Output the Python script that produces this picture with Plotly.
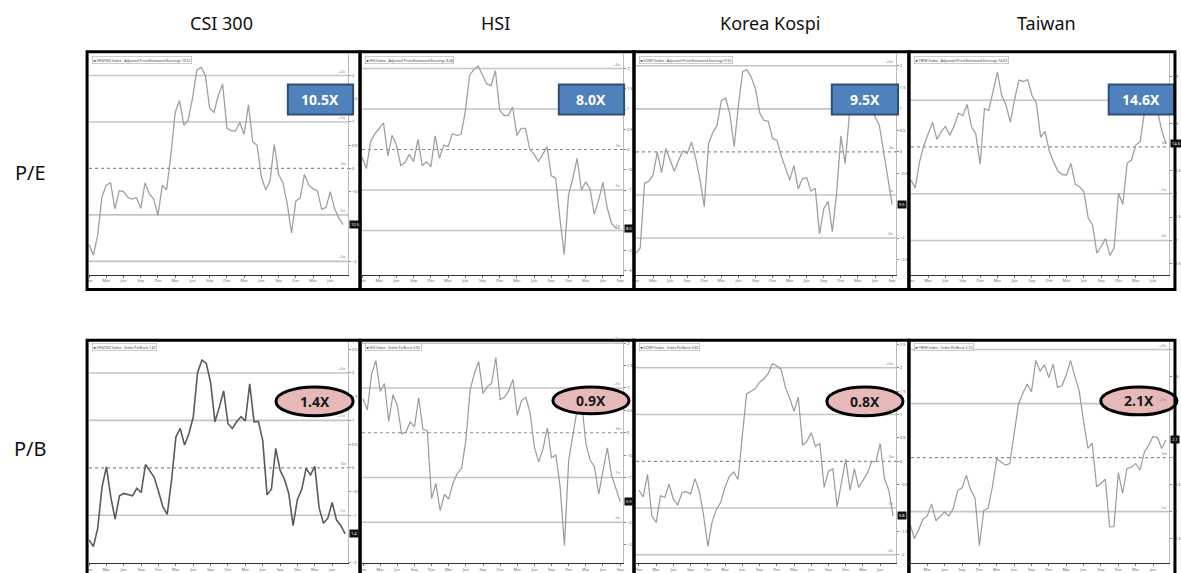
import plotly.graph_objects as go

W, H = 1181, 573

# ---------------- data (valuation in standard deviations from the mean) -------------
csi300_pe = [-1.64, -1.87, -1.43, -0.61, -0.36, -0.31, -0.87, -0.48, -0.50, -0.62,
             -0.66, -0.63, -0.86, -0.31, -0.55, -0.66, -1.01, -0.36, -0.46, 0.29,
             1.21, 1.46, 0.93, 1.04, 1.50, 2.11, 2.18, 2.00, 1.29, 1.21,
             1.57, 1.82, 0.87, 0.81, 0.81, 0.99, 0.73, 1.37, 0.57, 0.50,
             -0.18, -0.46, -0.27, 0.52, -0.13, -0.30, -0.77, -1.39, -0.70, -0.64,
             -0.13, -0.36, -0.44, -0.48, -0.88, -0.84, -0.50, -0.87, -1.07, -1.21]
hsi_pe = [-0.18, -0.47, 0.19, 0.39, 0.52, 0.66, -0.16, 0.35, 0.11, -0.39,
          -0.32, -0.12, -0.30, 0.25, -0.40, -0.30, -0.43, 0.34, -0.22, 0.11,
          0.07, 0.39, 0.35, 0.37, 0.93, 1.83, 1.98, 2.06, 1.84, 1.62,
          1.58, 1.95, 0.97, 0.84, 0.84, 1.05, 0.35, 0.52, 0.52, 0.00,
          -0.12, -0.29, -0.12, 0.07, -0.65, -0.70, -1.70, -2.60, -1.12, -0.71,
          -0.22, -1.00, -0.80, -0.98, -1.60, -1.25, -0.81, -1.45, -1.82, -1.94, -1.94]
kospi_pe = [-2.35, -2.23, -0.73, -0.68, -0.54, 0.00, -0.48, 0.08, -0.19, -0.45,
            -0.19, 0.02, -0.04, 0.23, -0.15, -0.65, -1.27, 0.19, 0.45, 0.62,
            1.19, 1.25, 0.88, 0.12, 1.08, 1.86, 1.91, 1.73, 1.46, 0.90,
            0.73, 0.71, 0.31, 0.27, -0.08, -0.35, -0.65, -0.32, -0.86, -0.62,
            -0.60, -0.91, -0.85, -1.91, -1.32, -1.15, -1.85, -0.96, 0.37, -0.27,
            0.88, 1.31, 1.38, 1.31, 1.42, 1.23, 0.81, 0.62, 0.00, -0.62, -1.22]
taiwan_pe = [-0.71, -0.87, -0.32, 0.04, 0.28, 0.53, 0.16, 0.33, 0.44, 0.25,
             0.45, 0.72, 0.67, 0.91, 0.43, 0.28, -0.37, 0.82, 0.78, 1.17,
             1.60, 1.10, 0.89, 0.53, 1.03, 1.43, 1.40, 1.44, 1.10, 0.94,
             0.21, 0.33, -0.09, -0.32, -0.52, -0.59, -0.60, -0.35, -0.80, -0.85,
             -0.96, -1.52, -1.67, -2.27, -2.13, -1.96, -2.32, -2.16, -0.99, -1.23,
             -0.35, -0.28, 0.04, 0.11, 0.74, 1.03, 1.03, 0.78, 0.35, 0.07]
csi300_pb = [-1.52, -1.66, -1.27, -0.40, 0.02, -0.61, -1.08, -0.59, -0.54, -0.57,
             -0.59, -0.43, -0.52, 0.07, -0.08, -0.20, -0.50, -0.82, -0.98, -0.26,
             0.65, 0.83, 0.48, 0.72, 1.07, 2.01, 2.27, 2.20, 1.80, 0.97,
             1.28, 1.62, 0.93, 0.83, 0.97, 1.08, 0.99, 1.77, 0.97, 0.98,
             0.58, -0.57, -0.45, 0.41, -0.05, -0.24, -0.54, -1.22, -0.66, -0.45,
             -0.01, -0.15, 0.03, -0.85, -1.17, -1.06, -0.73, -1.10, -1.22, -1.39]
hsi_pb = [0.76, 0.51, 1.31, 1.61, 0.93, 1.10, 0.26, 0.85, 0.61, -0.02,
          0.01, 0.24, 0.13, 0.78, 0.07, 0.05, -1.47, -1.13, -1.74, -1.38,
          -1.48, -1.13, -0.91, -0.80, -0.17, 0.96, 1.33, 1.59, 0.88, 1.03,
          1.10, 1.68, 0.74, 0.79, 0.94, 1.19, 0.39, 0.72, 0.79, 0.44,
          -0.32, -0.65, -0.36, 0.11, -0.56, -0.50, -1.21, -2.52, -0.61, 0.01,
          0.53, 0.72, -0.24, -0.61, -0.76, -1.37, -0.84, -0.34, -0.95, -1.26, -1.54]
kospi_pb = [-0.62, -0.76, -0.28, -1.17, -1.31, -0.74, -0.77, -0.49, -0.81, -0.94,
            -0.67, -0.65, -0.70, -0.37, -0.63, -1.15, -1.82, -1.29, -1.03, -0.87,
            -0.55, -0.32, -0.23, -0.39, 0.55, 1.44, 1.50, 1.55, 1.69, 1.76,
            1.88, 2.09, 2.04, 1.97, 1.58, 1.35, 1.07, 1.37, 0.34, 0.43,
            0.61, 0.32, 0.38, -0.56, -0.21, -0.16, -0.97, -0.46, 0.04, -0.62,
            -0.16, -0.56, -0.40, -0.26, -0.01, -0.01, 0.38, -0.37, -0.62, -1.17]
taiwan_pb = [-1.21, -1.50, -1.34, -1.14, -1.08, -0.86, -1.17, -1.08, -1.01, -1.08,
             -0.94, -0.61, -0.56, -0.33, -0.60, -0.75, -1.63, -0.98, -0.94, -0.54,
             -0.02, -0.08, -0.14, -0.11, 0.47, 0.99, 1.19, 1.36, 1.22, 1.80,
             1.60, 1.72, 1.48, 1.73, 1.30, 1.33, 1.53, 1.80, 1.50, 1.23,
             0.67, 0.17, 0.27, -0.54, -0.48, -0.40, -1.28, -1.28, -0.28, -0.66,
             -0.20, -0.18, -0.11, -0.23, 0.10, 0.23, 0.39, 0.37, 0.17, 0.33]

markets = ["CSI 300", "HSI", "Korea Kospi", "Taiwan"]
metrics = ["P/E", "P/B"]
current_multiples = ["10.5X", "8.0X", "9.5X", "14.6X", "1.4X", "0.9X", "0.8X", "2.1X"]
legend_texts = ["SHSZ300 Index - Adjusted Price/Estimated Earnings 10.52",
                "HSI Index - Adjusted Price/Estimated Earnings 8.04",
                "KOSPI Index - Adjusted Price/Estimated Earnings 9.50",
                "TWSE Index - Adjusted Price/Estimated Earnings 14.63",
                "SHSZ300 Index - Index Px/Book 1.41",
                "HSI Index - Index Px/Book 0.92",
                "KOSPI Index - Index Px/Book 0.83",
                "TWSE Index - Index Px/Book 2.10"]
sd_levels = [2, 1, 0, -1, -2]
month_labels = ["Dec", "Mar", "Jun", "Sep"]
series = [csi300_pe, hsi_pe, kospi_pe, taiwan_pe, csi300_pb, hsi_pb, kospi_pb, taiwan_pb]

# ---------------- geometry (pixels) ----------------
box_x = [(84, 360), (360, 637), (637, 915), (915, 1184)]
box_y = [(51, 290), (341, 578)]
plot_y = [(53, 275), (342, 565)]
plot_right = [348, 626, 902, 1178]
line_x = [(86, 343), (362, 623), (639, 898), (917, 1175),
          (86, 345), (363, 623), (642, 899), (916, 1175)]
mean_px = [168.3, 149.3, 151.7, 146.7, 469.3, 434.0, 462.7, 459.0]
sd_px = [46.7, 40.7, 43.3, 47.0, 47.7, 45.0, 47.0, 54.3]
badge_box = [(287, 353, 84, 114), (561, 627, 84, 114), (837, 904, 84, 114), (1117, 1183, 84, 114),
             (275, 353, 388, 417), (555, 632, 388, 415), (832, 909, 388, 417), (1109, 1186, 388, 416)]
line_colors = ["#a0a0a0"] * 4 + ["#5a5a5a", "#9a9a9a", "#9a9a9a", "#9a9a9a"]
line_widths = [1.3] * 4 + [1.6, 1.2, 1.2, 1.2]


def px_x(p):
    return p / W


def px_y(p):
    return 1 - p / H


fig = go.Figure()
shapes = []
annotations = []
FONT = "Noto Sans"

for i, vals in enumerate(series):
    r, c = divmod(i, 4)
    n = len(vals)
    ax = "" if i == 0 else str(i + 1)
    left = box_x[c][0] + 2
    right = plot_right[c]
    top, bot = plot_y[r]
    ls, le = line_x[i]
    upp = (n - 1) / (le - ls)
    xr = [-(ls - left) * upp, (n - 1) + (right - le) * upp]
    yr = [(mean_px[i] - bot) / sd_px[i], (mean_px[i] - top) / sd_px[i]]

    fig.add_trace(go.Scatter(x=list(range(n)), y=vals, mode="lines",
                             line=dict(color=line_colors[i], width=line_widths[i]),
                             xaxis="x" + ax, yaxis="y" + ax, showlegend=False,
                             hoverinfo="skip"))

    # right-axis ticks, skipping those hidden behind the current-value tag
    ytv = []
    k = -6
    while k <= 6:
        v = k * 0.5
        if yr[0] < v < yr[1] and abs(v - vals[-1]) > 0.32:
            ytv.append(v)
        k += 1

    fig.layout["xaxis" + ax] = dict(domain=[px_x(left), px_x(right)], range=xr,
                                    anchor="y" + ax, showgrid=False, zeroline=False,
                                    showline=True, linecolor="#333", linewidth=1,
                                    mirror=False, ticks="outside", ticklen=2,
                                    tickcolor="#777", tickvals=list(range(0, n, 4)),
                                    ticktext=month_labels * 4,
                                    tickfont=dict(size=4, color="#666", family=FONT),
                                    fixedrange=True)
    fig.layout["yaxis" + ax] = dict(domain=[px_y(bot), px_y(top)], range=yr,
                                    anchor="x" + ax, side="right", showgrid=False,
                                    zeroline=False, showline=True, linecolor="#bbb",
                                    linewidth=1, ticks="outside", ticklen=2,
                                    tickcolor="#888", tickvals=ytv,
                                    tickfont=dict(size=4, color="#555", family=FONT),
                                    fixedrange=True)

    # std-dev bands
    for lv in sd_levels:
        if yr[0] + 0.03 < lv < yr[1] - 0.03:
            shapes.append(dict(type="line", xref="x" + ax, yref="y" + ax,
                               x0=xr[0], x1=xr[1], y0=lv, y1=lv,
                               line=dict(color="#8a8a8a" if lv == 0 else "#c4c4c4",
                                         width=1.2 if lv == 0 else 1.6,
                                         dash="dot" if lv == 0 else "solid"),
                               layer="below"))
            annotations.append(dict(xref="x" + ax, yref="y" + ax, x=xr[1], y=lv,
                                    text=("%+d" % lv if lv else "0") + "σ", showarrow=False,
                                    xanchor="right", yanchor="bottom",
                                    font=dict(size=4, color="#777", family=FONT)))
    # current-value tag
    annotations.append(dict(xref="paper", yref="y" + ax, x=px_x(right + 1), y=vals[-1],
                            text=current_multiples[i].rstrip("X"), showarrow=False,
                            xanchor="left", bgcolor="#111",
                            font=dict(size=4, color="white", family=FONT), borderpad=1))
    # legend box
    annotations.append(dict(xref="paper", yref="paper", x=px_x(left + 3), y=px_y(top + 2),
                            text="■ " + legend_texts[i], showarrow=False,
                            xanchor="left", yanchor="top", bordercolor="#aaa",
                            borderwidth=0.6, borderpad=1, bgcolor="white",
                            font=dict(size=3.5, color="#444", family=FONT)))

    # badge
    bx0, bx1, by0, by1 = badge_box[i]
    if r == 0:
        shapes.append(dict(type="rect", xref="paper", yref="paper",
                           x0=px_x(bx0), x1=px_x(bx1), y0=px_y(by1), y1=px_y(by0),
                           fillcolor="#4F81BD", line=dict(color="#2F4F73", width=2),
                           layer="above"))
        tcol = "white"
    else:
        shapes.append(dict(type="circle", xref="paper", yref="paper",
                           x0=px_x(bx0), x1=px_x(bx1), y0=px_y(by1), y1=px_y(by0),
                           fillcolor="#E6B9B8", line=dict(color="black", width=3),
                           layer="above"))
        tcol = "#1a1a1a"
    annotations.append(dict(xref="paper", yref="paper", x=px_x((bx0 + bx1) / 2),
                            y=px_y((by0 + by1) / 2), text="<b>%s</b>" % current_multiples[i],
                            showarrow=False, xanchor="center", yanchor="middle",
                            font=dict(size=14, color=tcol, family=FONT)))

# panel borders
for r in range(2):
    for c in range(4):
        x0, x1 = box_x[c]
        y0, y1 = box_y[r]
        shapes.append(dict(type="rect", xref="paper", yref="paper",
                           x0=px_x(x0), x1=px_x(x1), y0=px_y(y1), y1=px_y(y0),
                           line=dict(color="black", width=3), layer="above"))

# column titles
title_x = [220, 497, 775, 1054]
for c, name in enumerate(markets):
    annotations.append(dict(xref="paper", yref="paper", x=px_x(title_x[c]), y=px_y(22),
                            text=name, showarrow=False, xanchor="center", yanchor="middle",
                            font=dict(size=18, color="#111", family=FONT)))
# row labels
row_y = [172, 450]
for r, m in enumerate(metrics):
    annotations.append(dict(xref="paper", yref="paper", x=px_x(27), y=px_y(row_y[r]),
                            text=m, showarrow=False, xanchor="center", yanchor="middle",
                            font=dict(size=20, color="#111", family=FONT)))

fig.update_layout(width=W, height=H, margin=dict(l=0, r=0, t=0, b=0),
                  paper_bgcolor="white", plot_bgcolor="white",
                  shapes=shapes, annotations=annotations, showlegend=False)

fig.write_html("out.html", config={"displayModeBar": False})
